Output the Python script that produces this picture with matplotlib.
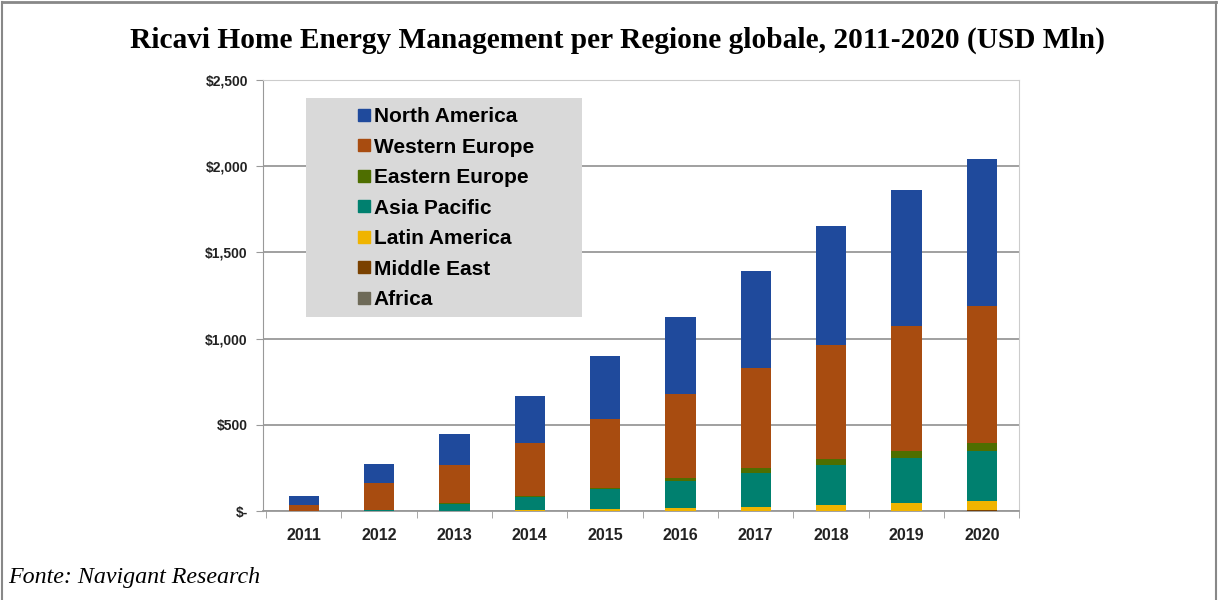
import numpy as np
import matplotlib.pyplot as plt
from matplotlib.patches import Rectangle
from matplotlib.lines import Line2D
from matplotlib.ticker import FuncFormatter

plt.rcParams['font.family'] = ['Liberation Sans', 'DejaVu Sans']

years = ['2011', '2012', '2013', '2014', '2015', '2016', '2017', '2018', '2019', '2020']

# USD millions
africa = [0, 0, 1, 1, 1, 1, 1, 2, 2, 2]
middle_east = [0, 0, 1, 1, 1, 1, 2, 2, 2, 3]
latin_america = [0, 1, 2, 3, 11, 16, 24, 33, 42, 57]
asia_pacific = [0, 5, 40, 78, 113, 155, 196, 230, 264, 286]
eastern_europe = [0, 1, 3, 6, 11, 19, 29, 37, 40, 49]
western_europe = [37, 157, 219, 309, 395, 485, 577, 658, 721, 790]
north_america = [52, 112, 180, 268, 369, 450, 561, 693, 788, 852]

series = [
    ('Africa', africa, '#6E6A58'),
    ('Middle East', middle_east, '#7A4100'),
    ('Latin America', latin_america, '#F0B400'),
    ('Asia Pacific', asia_pacific, '#00806F'),
    ('Eastern Europe', eastern_europe, '#4E6E00'),
    ('Western Europe', western_europe, '#A84C10'),
    ('North America', north_america, '#1F4A9C'),
]

fig = plt.figure(figsize=(12.18, 6), dpi=100)
ax = fig.add_axes([0.216, 0.148, 0.621, 0.719])

x = np.arange(len(years))
bottom = np.zeros(len(years))
for name, vals, col in series:
    ax.bar(x, vals, 0.4, bottom=bottom, color=col, zorder=3)
    bottom += np.array(vals)

ax.set_ylim(0, 2500)
ax.set_xlim(-0.54, len(years) - 0.55)
ax.set_yticks(np.arange(0, 2501, 500))
ax.yaxis.set_major_formatter(FuncFormatter(lambda v, p: '$-' if v == 0 else '${:,.0f}'.format(v)))
ax.grid(axis='y', color='#999999', lw=1.3, zorder=0)
ax.set_xticks(x)
ax.set_xticklabels(years)
ax.set_xticks(np.arange(-0.5, len(years), 1), minor=True)
ax.tick_params(axis='x', which='major', length=0, pad=12)
ax.tick_params(axis='x', which='minor', length=5, color='#999999')
ax.tick_params(axis='y', length=5, color='#999999', pad=6)
for lab in ax.get_xticklabels():
    lab.set_fontweight('bold')
    lab.set_fontsize(11.5)
    lab.set_color('#222222')
for lab in ax.get_yticklabels():
    lab.set_fontweight('bold')
    lab.set_fontsize(10)
    lab.set_color('#222222')
for s in ['top', 'right']:
    ax.spines[s].set_color('#cccccc')
for s in ['left', 'bottom']:
    ax.spines[s].set_color('#999999')
ax.spines['bottom'].set_linewidth(1.3)

# legend box
ax.add_patch(Rectangle((0.057, 0.450), 0.364, 0.508, transform=ax.transAxes,
                       facecolor='#d9d9d9', edgecolor='none', zorder=4))
handles = [Line2D([], [], marker='s', ls='none', color=col, markersize=8)
           for name, vals, col in series[::-1]]
labels = [name for name, vals, col in series[::-1]]
leg = ax.legend(handles, labels, loc='upper left', bbox_to_anchor=(0.101, 0.975),
                frameon=False, prop={'weight': 'bold', 'size': 15},
                handletextpad=0.05, labelspacing=0.55, handlelength=0.8, borderpad=0.3)
leg.set_zorder(5)

fig.text(0.507, 0.932, 'Ricavi Home Energy Management per Regione globale, 2011-2020 (USD Mln)',
         ha='center', va='center', fontfamily='Liberation Serif', fontweight='bold', fontsize=21.2)
fig.text(0.007, 0.037, 'Fonte: Navigant Research', ha='left', va='center',
         fontfamily='Liberation Serif', fontstyle='italic', fontsize=17.3)

# page frame
frame_col = '#888888'
fig.add_artist(Line2D([0.002, 0.998], [0.996, 0.996], transform=fig.transFigure, color=frame_col, lw=2))
fig.add_artist(Line2D([0.002, 0.002], [0.0, 0.996], transform=fig.transFigure, color=frame_col, lw=1.5))
fig.add_artist(Line2D([0.998, 0.998], [0.0, 0.996], transform=fig.transFigure, color=frame_col, lw=1.5))

fig.savefig('out.png', dpi=100)
